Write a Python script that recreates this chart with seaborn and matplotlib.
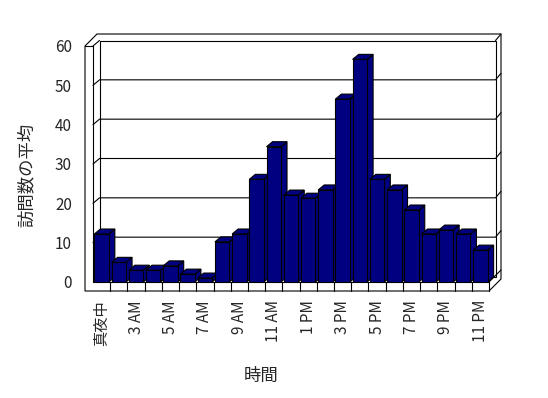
import matplotlib
matplotlib.use("Agg")
import matplotlib.pyplot as plt
import matplotlib.transforms as mtransforms
from matplotlib.patches import Polygon
from matplotlib.lines import Line2D
import pandas as pd
import seaborn as sns

# data (average visits per hour)
hours = ["真夜中", "1 AM", "3 AM", "4 AM", "5 AM", "6 AM", "7 AM", "8 AM",
         "9 AM", "10 AM", "11 AM", "12 PM", "1 PM", "2 PM", "3 PM", "4 PM",
         "5 PM", "6 PM", "7 PM", "8 PM", "9 PM", "10 PM", "11 PM"]
visits = [12.2, 5.0, 3.0, 3.0, 4.1, 2.0, 1.0, 10.2, 12.2, 26.1, 34.4, 22.1,
          21.3, 23.4, 46.5, 56.6, 26.1, 23.4, 18.3, 12.2, 13.2, 12.2, 8.1]
yticks = [0, 10, 20, 30, 40, 50, 60]
xlabel = "時間"
ylabel = "訪問数の平均"

NAVY = "#000080"
LW = 0.8

sns.set_style("white")
plt.rcParams["font.family"] = ["Noto Sans CJK JP", "DejaVu Sans"]

W, H = 548, 398
fig = plt.figure(figsize=(W / 100, H / 100), dpi=100)
ax = fig.add_axes([93 / W, 1 - 282 / H, (489 - 93) / W, (282 - 46) / H])

df = pd.DataFrame({"hour": hours, "visits": visits})
sns.barplot(data=df, x="hour", y="visits", color=NAVY, saturation=1,
            width=0.84, edgecolor="black", linewidth=LW, ax=ax, zorder=3)
bars = list(ax.patches)

ax.set_xlim(-0.5, len(hours) - 0.5)
ax.set_ylim(0, 60)
ax.set_autoscale_on(False)
ax.set_xlabel("")
ax.set_ylabel("")
ax.patch.set_visible(False)
for s in ax.spines.values():
    s.set_visible(False)

# ticks
ax.set_yticks(yticks)
ax.set_yticklabels([str(v) for v in yticks], fontsize=11)
ax.tick_params(axis="y", direction="out", length=5.8, width=LW, pad=9.4,
               left=True, color="black")
ax.yaxis.get_major_ticks()[0].tick1line.set_visible(False)
xt = list(range(0, len(hours), 2))
ax.set_xticks(xt)
ax.set_xticklabels([hours[i] for i in xt], rotation=90, fontsize=11)
ax.tick_params(axis="x", length=0, pad=13)

fig.text(27 / W, 1 - 175 / H, ylabel, rotation=90, ha="center", va="center",
         fontsize=12.5)
fig.text(261 / W, 1 - 376 / H, xlabel, ha="center", va="center", fontsize=12.5)

# pseudo 3D frame, offsets in pixels (y up)
ident = mtransforms.IdentityTransform()
x0, x1 = -0.5, len(hours) - 0.5
D1 = (6.5, 5.5)   # back wall inner plane
D2 = (12, 12)     # back wall outer plane
DB = (6, 5)       # bar depth
WALL, FLOOR = 8, 9


def px(x, y, dx=0, dy=0):
    X, Y = ax.transData.transform((x, y))
    return (X + dx, Y + dy)


def poly(pts, z, face="white"):
    ax.add_patch(Polygon(pts, closed=True, facecolor=face, edgecolor="black",
                         linewidth=LW, transform=ident, clip_on=False, zorder=z))


def line(pts, z=1.5):
    xs = [p[0] for p in pts]
    ys = [p[1] for p in pts]
    ax.add_line(Line2D(xs, ys, color="black", linewidth=LW, transform=ident,
                       clip_on=False, zorder=z))


poly([px(x0, 60, -WALL, 0), px(x0, 60, -WALL + D2[0], D2[1]),
      px(x1, 60, *D2), px(x1, 0, D2[0], D2[1] - FLOOR),
      px(x1, 0, 0, -FLOOR), px(x0, 0, -WALL, -FLOOR)], 1)
poly([px(x0, 0, *D1), px(x1, 0, *D1), px(x1, 60, *D1), px(x0, 60, *D1)], 1.2)

line([px(x0, 60, -WALL, 0), px(x0, 60), px(x0, 0), px(x1, 0), px(x1, 0, 0, -FLOOR)])
line([px(x0, 60), px(x0, 60, *D1)])
line([px(x1, 60, *D1), px(x1, 60, *D2)])
line([px(x1, 0), px(x1, 0, *D2)])
for v in yticks[1:-1]:
    line([px(x0, v), px(x0, v, *D1), px(x1, v, *D1), px(x1, v, *D2)])
for k in range(len(hours) - 1):
    line([px(k + 0.5, 0), px(k + 0.5, 0, 0, -FLOOR)])

# side and top faces of the bars
for p in bars:
    bx, bw, bh = p.get_x(), p.get_width(), p.get_height()
    poly([px(bx + bw, 0), px(bx + bw, 0, *DB), px(bx + bw, bh, *DB),
          px(bx + bw, bh)], 2.5, NAVY)
    poly([px(bx, bh), px(bx, bh, *DB), px(bx + bw, bh, *DB),
          px(bx + bw, bh)], 2.5, NAVY)

fig.savefig("out.png", dpi=100, facecolor="white")
